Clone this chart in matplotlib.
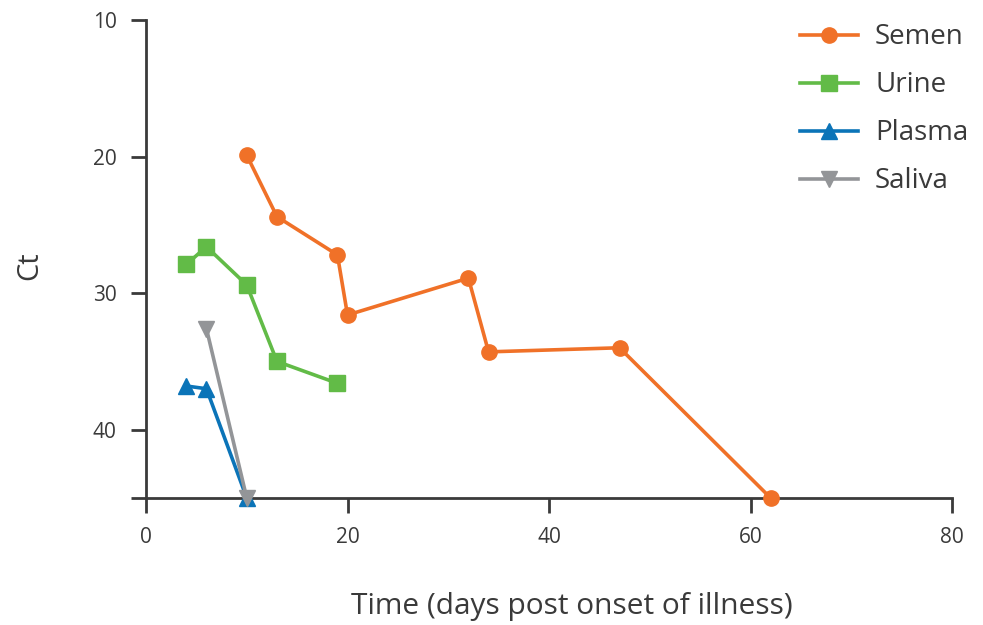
import matplotlib
matplotlib.use("Agg")
import matplotlib.pyplot as plt

semen_x = [10, 13, 19, 20, 32, 34, 47, 62]
semen_y = [19.9, 24.4, 27.2, 31.6, 28.9, 34.3, 34.0, 45]
urine_x = [4, 6, 10, 13, 19]
urine_y = [27.9, 26.6, 29.4, 35.0, 36.6]
plasma_x = [4, 6, 10]
plasma_y = [36.8, 37.0, 45]
saliva_x = [6, 10]
saliva_y = [32.6, 45]

x_ticks = [0, 20, 40, 60, 80]
y_ticks = [10, 20, 30, 40]

plt.rcParams['font.family'] = ['Open Sans', 'DejaVu Sans']
txt = '#3a3a3a'
axc = '#3a3a3a'

fig = plt.figure(figsize=(9.83, 6.25), dpi=100)
ax = fig.add_axes([146/983, 1-498/625, (952-146)/983, (498-20)/625])

ax.plot(semen_x, semen_y, color='#F07128', lw=2.6, marker='o', ms=11, label='Semen', clip_on=False, zorder=5)
ax.plot(urine_x, urine_y, color='#62BB47', lw=2.6, marker='s', ms=11, label='Urine', clip_on=False, zorder=4)
ax.plot(plasma_x, plasma_y, color='#0B74B8', lw=2.6, marker='^', ms=11, mfc='#0B74B8', mec='#0B74B8', label='Plasma', clip_on=False, zorder=3)
ax.plot(saliva_x, saliva_y, color='#939598', lw=2.6, marker='v', ms=11, label='Saliva', clip_on=False, zorder=3)

ax.set_xlim(0, 80)
ax.set_ylim(45, 10)
ax.set_xticks(x_ticks)
ax.set_xticklabels([str(v) for v in x_ticks])
ax.set_yticks(y_ticks + [45])
ax.set_yticklabels([str(v) for v in y_ticks] + [''])

for s in ['top', 'right']:
    ax.spines[s].set_visible(False)
for s in ['left', 'bottom']:
    ax.spines[s].set_color(axc)
    ax.spines[s].set_linewidth(2)
ax.tick_params(axis='both', length=11, width=2, color=axc, labelcolor=txt, labelsize=15, pad=10)

ax.set_xlabel('Time (days post onset of illness)', fontsize=21.5, color=txt, va='center')
ax.xaxis.set_label_coords(0.529, -0.228)
ax.set_ylabel('Ct', fontsize=21, color=txt, va='center')
ax.yaxis.set_label_coords(-0.144, 0.487)

leg = ax.legend(loc='upper left', bbox_to_anchor=(629/806, 1.045), frameon=False,
                fontsize=20, handlelength=2.1, handletextpad=0.6, labelspacing=0.72)
for t in leg.get_texts():
    t.set_color(txt)

fig.savefig('out.png', dpi=100)
